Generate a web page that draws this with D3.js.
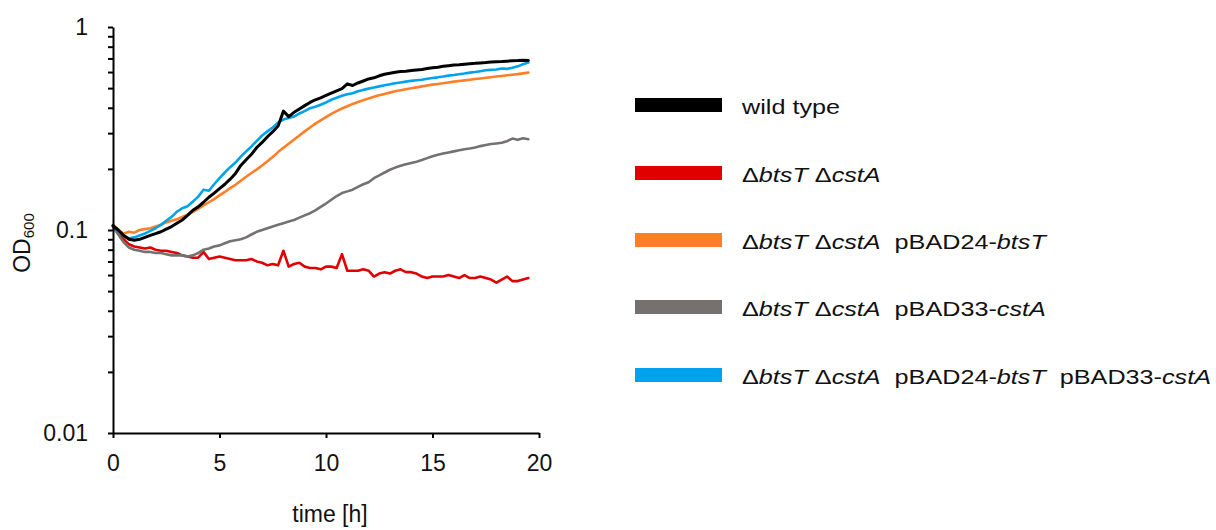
<!DOCTYPE html>
<html>
<head>
<meta charset="utf-8">
<script src="https://cdn.jsdelivr.net/npm/d3@7"></script>
<style>
  html, body { margin: 0; padding: 0; background: #fff; }
  svg { display: block; font-family: "Liberation Sans", Arial, sans-serif; }
</style>
</head>
<body>
<svg id="chart" width="1216" height="530"></svg>
<script>
// ---------------- data ----------------
const timeH = [
  0, 0.25, 0.5, 0.75, 1, 1.25, 1.5, 1.75, 2, 2.25, 2.5, 2.75,
  3, 3.25, 3.5, 3.75, 4, 4.25, 4.5, 4.75, 5, 5.25, 5.5, 5.75,
  6, 6.25, 6.5, 6.75, 7, 7.25, 7.5, 7.75, 8, 8.25, 8.5, 8.75,
  9, 9.25, 9.5, 9.75, 10, 10.25, 10.5, 10.75, 11, 11.25, 11.5, 11.75,
  12, 12.25, 12.5, 12.75, 13, 13.25, 13.5, 13.75, 14, 14.25, 14.5, 14.75,
  15, 15.25, 15.5, 15.75, 16, 16.25, 16.5, 16.75, 17, 17.25, 17.5, 17.75,
  18, 18.25, 18.5, 18.75, 19, 19.25, 19.5
];

const wildType = [
  0.105, 0.100, 0.094, 0.090, 0.089, 0.090, 0.092, 0.094, 0.096, 0.098, 0.101, 0.104,
  0.108, 0.112, 0.118, 0.125, 0.130, 0.137, 0.145, 0.152, 0.160, 0.168, 0.178, 0.190,
  0.208, 0.222, 0.236, 0.255, 0.270, 0.288, 0.305, 0.325, 0.385, 0.362, 0.380, 0.395,
  0.410, 0.425, 0.438, 0.448, 0.460, 0.472, 0.485, 0.497, 0.525, 0.515, 0.530, 0.542,
  0.555, 0.562, 0.575, 0.585, 0.592, 0.598, 0.603, 0.605, 0.610, 0.614, 0.618, 0.624,
  0.630, 0.634, 0.640, 0.645, 0.650, 0.652, 0.656, 0.660, 0.662, 0.665, 0.668, 0.672,
  0.674, 0.676, 0.679, 0.682, 0.683, 0.685, 0.684
];

const deltaBoth = [
  0.104, 0.096, 0.090, 0.085, 0.083, 0.082, 0.081, 0.082, 0.080, 0.079, 0.079, 0.078,
  0.077, 0.075, 0.074, 0.073, 0.073, 0.078, 0.072, 0.073, 0.074, 0.073, 0.072, 0.071,
  0.071, 0.071, 0.072, 0.070, 0.069, 0.067, 0.068, 0.067, 0.079, 0.066, 0.068, 0.069,
  0.066, 0.065, 0.065, 0.064, 0.066, 0.066, 0.065, 0.076, 0.063, 0.063, 0.063, 0.064,
  0.063, 0.059, 0.061, 0.062, 0.061, 0.063, 0.064, 0.062, 0.062, 0.061, 0.059, 0.058,
  0.059, 0.059, 0.059, 0.060, 0.059, 0.058, 0.060, 0.058, 0.058, 0.059, 0.058, 0.057,
  0.055, 0.057, 0.059, 0.056, 0.056, 0.057, 0.058
];

const withBtsT = [
  0.106, 0.100, 0.096, 0.098, 0.097, 0.100, 0.101, 0.102, 0.104, 0.106, 0.109, 0.111,
  0.113, 0.116, 0.119, 0.123, 0.127, 0.132, 0.137, 0.142, 0.148, 0.154, 0.161, 0.167,
  0.175, 0.183, 0.191, 0.199, 0.208, 0.218, 0.229, 0.242, 0.254, 0.266, 0.279, 0.292,
  0.306, 0.320, 0.334, 0.347, 0.360, 0.373, 0.385, 0.397, 0.407, 0.418, 0.427, 0.436,
  0.445, 0.453, 0.461, 0.468, 0.475, 0.482, 0.488, 0.494, 0.499, 0.504, 0.510, 0.515,
  0.520, 0.524, 0.528, 0.533, 0.538, 0.542, 0.546, 0.550, 0.554, 0.558, 0.562, 0.566,
  0.570, 0.574, 0.578, 0.582, 0.586, 0.591, 0.596
];

const withCstA = [
  0.104, 0.095, 0.087, 0.082, 0.080, 0.079, 0.078, 0.078, 0.077, 0.077, 0.076, 0.075,
  0.075, 0.075, 0.074, 0.075, 0.077, 0.080, 0.081, 0.083, 0.084, 0.086, 0.088, 0.089,
  0.090, 0.092, 0.095, 0.098, 0.100, 0.102, 0.104, 0.106, 0.108, 0.110, 0.112, 0.115,
  0.118, 0.121, 0.125, 0.130, 0.135, 0.141, 0.147, 0.152, 0.155, 0.158, 0.163, 0.168,
  0.172, 0.180, 0.186, 0.192, 0.198, 0.203, 0.207, 0.211, 0.214, 0.217, 0.221, 0.226,
  0.231, 0.235, 0.238, 0.241, 0.244, 0.247, 0.250, 0.252, 0.255, 0.259, 0.262, 0.265,
  0.267, 0.269, 0.274, 0.282, 0.278, 0.283, 0.280
];

const withBoth = [
  0.105, 0.099, 0.094, 0.091, 0.092, 0.094, 0.096, 0.099, 0.102, 0.106, 0.111, 0.116,
  0.123, 0.128, 0.131, 0.138, 0.146, 0.158, 0.156, 0.168, 0.180, 0.192, 0.204, 0.215,
  0.230, 0.244, 0.258, 0.275, 0.292, 0.306, 0.320, 0.338, 0.350, 0.356, 0.362, 0.375,
  0.385, 0.398, 0.405, 0.414, 0.425, 0.438, 0.448, 0.458, 0.466, 0.472, 0.482, 0.490,
  0.497, 0.503, 0.510, 0.517, 0.522, 0.528, 0.533, 0.538, 0.543, 0.547, 0.550, 0.556,
  0.561, 0.565, 0.570, 0.576, 0.580, 0.585, 0.590, 0.596, 0.600, 0.606, 0.612, 0.615,
  0.618, 0.625, 0.622, 0.630, 0.640, 0.655, 0.668
];

// legend labels: segments [text, italic]
const legendLabels = [
  [["wild type", false]],
  [["\u0394", false], ["btsT", true], [" \u0394", false], ["cstA", true]],
  [["\u0394", false], ["btsT", true], [" \u0394", false], ["cstA", true], ["  pBAD24-", false], ["btsT", true]],
  [["\u0394", false], ["btsT", true], [" \u0394", false], ["cstA", true], ["  pBAD33-", false], ["cstA", true]],
  [["\u0394", false], ["btsT", true], [" \u0394", false], ["cstA", true], ["  pBAD24-", false], ["btsT", true], ["  pBAD33-", false], ["cstA", true]]
];
const seriesColors = ["#000000", "#E00000", "#FF7F27", "#767171", "#00A2ED"];
const seriesValues = [wildType, deltaBoth, withBtsT, withCstA, withBoth];

const xTicks = [0, 5, 10, 15, 20];
const yTicks = [0.01, 0.02, 0.03, 0.04, 0.05, 0.06, 0.07, 0.08, 0.09,
                0.1, 0.2, 0.3, 0.4, 0.5, 0.6, 0.7, 0.8, 0.9, 1];
const yLabelTicks = [0.01, 0.1, 1];
const yLabelText = ["0.01", "0.1", "1"];

// ---------------- chart ----------------
const svg = d3.select("#chart");
svg.append("rect").attr("width", 1216).attr("height", 530).attr("fill", "#fff");

const x = d3.scaleLinear().domain([0, 20]).range([113, 539]);
const y = d3.scaleLog().domain([0.01, 1]).range([433, 27]);

// lines (drawn first so axes sit on top)
const line = d3.line()
  .x((d, i) => x(timeH[i]))
  .y(d => y(d));

const drawOrder = [1, 3, 2, 4, 0];
drawOrder.forEach(k => {
  svg.append("path")
    .datum(seriesValues[k])
    .attr("fill", "none")
    .attr("stroke", seriesColors[k])
    .attr("stroke-width", k === 0 ? 3 : 2.6)
    .attr("stroke-linejoin", "round")
    .attr("stroke-linecap", "round")
    .attr("d", line);
});

// axes
const yAxis = d3.axisLeft(y)
  .tickValues(yTicks)
  .tickSizeInner(5)
  .tickSizeOuter(0)
  .tickPadding(20)
  .tickFormat(d => {
    const idx = yLabelTicks.findIndex(v => Math.abs(v - d) < 1e-9);
    return idx >= 0 ? yLabelText[idx] : "";
  });

const gy = svg.append("g").attr("transform", "translate(113,0)").call(yAxis);
gy.select(".domain").attr("stroke", "#000").attr("stroke-width", 2);
gy.selectAll(".tick line").attr("stroke", "#000").attr("stroke-width", 2);
gy.selectAll(".tick text")
  .attr("font-family", "Liberation Sans, Arial, sans-serif")
  .attr("font-size", 23).attr("fill", "#111");

const xAxis = d3.axisBottom(x)
  .tickValues(xTicks)
  .tickSizeInner(5)
  .tickSizeOuter(0)
  .tickPadding(17)
  .tickFormat(d3.format("d"));

const gx = svg.append("g").attr("transform", "translate(0,433)").call(xAxis);
gx.select(".domain").attr("stroke", "#000").attr("stroke-width", 2);
gx.selectAll(".tick line").attr("stroke", "#000").attr("stroke-width", 2);
gx.selectAll(".tick text")
  .attr("font-family", "Liberation Sans, Arial, sans-serif")
  .attr("font-size", 23).attr("fill", "#111");

// axis titles
svg.append("text")
  .attr("x", 330).attr("y", 522)
  .attr("text-anchor", "middle")
  .attr("font-size", 23).attr("fill", "#111")
  .text("time [h]");

const yt = svg.append("text")
  .attr("transform", "translate(30,243) rotate(-90)")
  .attr("text-anchor", "middle")
  .attr("font-size", 23).attr("fill", "#111");
yt.append("tspan").text("OD");
yt.append("tspan").attr("font-size", 15).attr("dy", 4).text("600");

// legend
const legendY = [105, 173, 240, 307, 375];
legendLabels.forEach((segs, i) => {
  svg.append("rect")
    .attr("x", 635).attr("y", legendY[i] - 7)
    .attr("width", 87).attr("height", 14)
    .attr("fill", seriesColors[i]);
  const g = svg.append("g")
    .attr("transform", `translate(742,${legendY[i] + 9}) scale(1.26,1)`);
  const t = g.append("text")
    .attr("x", 0).attr("y", 0)
    .attr("font-size", 20).attr("fill", "#111")
    .attr("xml:space", "preserve")
    .style("white-space", "pre");
  segs.forEach(([txt, it]) => {
    t.append("tspan")
      .attr("font-style", it ? "italic" : "normal")
      .text(txt);
  });
});
</script>
</body>
</html>
